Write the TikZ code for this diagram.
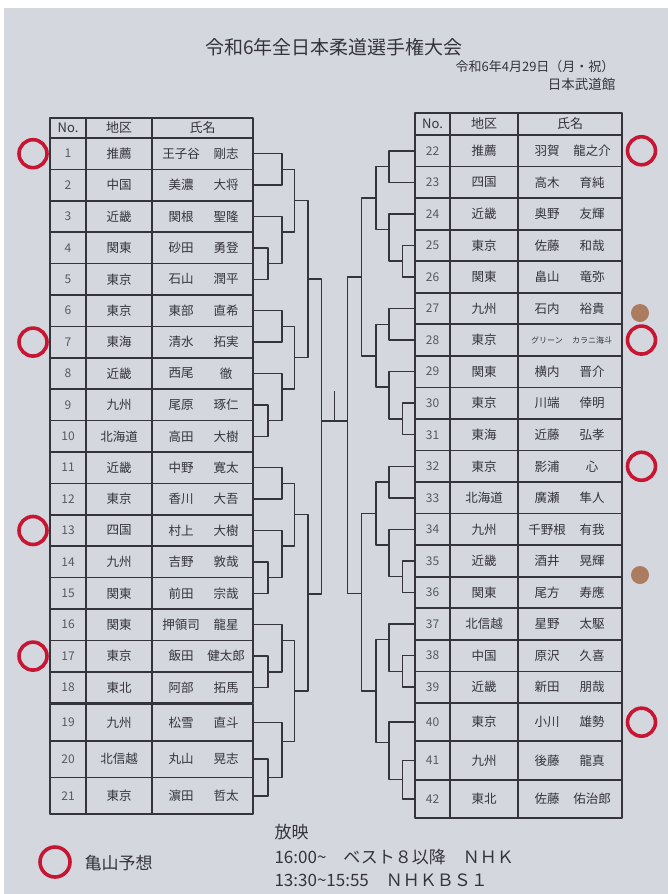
\documentclass[tikz,border=0pt]{standalone}
\usepackage{fontspec}
\setmainfont{Noto Sans CJK JP}
\usepackage{tikz}
\usetikzlibrary{calc}

\definecolor{paper}{RGB}{213,215,223}
\definecolor{ink}{RGB}{52,52,58}
\definecolor{numgray}{RGB}{88,88,96}
\definecolor{yosoured}{RGB}{198,22,52}
\definecolor{tackbrown}{RGB}{172,124,96}

% one bout: two entrants, x of the bar, name of the winner point
\newcommand\bout[5][.5]{%
  \draw[bracket] (#2) -- (#4|-#2) -- (#4|-#3) -- (#3);
  \coordinate (#5) at ($(#4|-#2)!#1!(#4|-#3)$);}

\begin{document}
\begin{tikzpicture}[x=1pt, y=-1pt, line join=round,
  grid/.style={draw=ink, line width=1.7pt},
  bracket/.style={draw=ink, line width=1.5pt},
  txt/.style={text=ink, inner sep=0pt, font=\fontsize{12.5}{12.5}\selectfont},
  num/.style={text=numgray, inner sep=0pt, font=\fontsize{12}{12}\selectfont},
  head/.style={text=ink, inner sep=0pt, font=\fontsize{13}{13}\selectfont},
  yosou/.style={draw=yosoured, line width=3.6pt}]
\useasboundingbox (0,0) rectangle (668,894);
\fill[white] (0,0) rectangle (668,894);
\fill[paper] (4,8) rectangle (668,894);

% title
\node[text=ink, font=\fontsize{19}{19}\selectfont] (title) at (334,47) {令和6年全日本柔道選手権大会};
\node[text=ink, anchor=east, font=\fontsize{13}{13}\selectfont] (date) at (618,67) {令和6年4月29日（月・祝）};
\node[text=ink, anchor=east, font=\fontsize{13.5}{13.5}\selectfont] (hall) at (619,84) {日本武道館};

% left table
\draw[grid] (50,118) rectangle (86,138) (86,118) rectangle (152,138) (152,118) rectangle (253,138);
\node[head] (hnoL) at (68,128) {No.};
\node[head] (hareaL) at (119,128) {地区};
\node[head] (hnameL) at (202.5,128) {氏名};
\foreach \n/\area/\sei/\mei in {1/推薦/王子谷/剛志, 2/中国/美濃/大将, 3/近畿/関根/聖隆,
    4/関東/砂田/勇登, 5/東京/石山/潤平, 6/東京/東部/直希, 7/東海/清水/拓実,
    8/近畿/西尾/徹, 9/九州/尾原/琢仁, 10/北海道/高田/大樹, 11/近畿/中野/寛太,
    12/東京/香川/大吾, 13/四国/村上/大樹, 14/九州/吉野/敦哉, 15/関東/前田/宗哉,
    16/関東/押領司/龍星, 17/東京/飯田/健太郎, 18/東北/阿部/拓馬, 19/九州/松雪/直斗,
    20/北信越/丸山/晃志, 21/東京/濵田/哲太}{
  \pgfmathsetmacro\ya{\n<19 ? 138+(\n-1)*31.4 : 704+(\n-19)*36.7}
  \pgfmathsetmacro\yb{\n<19 ? \ya+31.4 : \ya+36.7}
  \pgfmathsetmacro\ym{(\ya+\yb)/2}
  \draw[grid] (50,\ya) rectangle (86,\yb) (86,\ya) rectangle (152,\yb) (152,\ya) rectangle (253,\yb);
  \node[num] (no\n) at (68,\ym) {\n};
  \node[txt] (area\n) at (119,\ym) {\area};
  \node[txt] (sei\n) at (181,\ym) {\sei};
  \node[txt] (mei\n) at (226,\ym) {\mei};
  \coordinate (e\n) at (253,\ym);
}

% right table
\draw[grid] (415,113) rectangle (450,135) (450,113) rectangle (518,135) (518,113) rectangle (622,135);
\node[head] (hnoR) at (432.5,124) {No.};
\node[head] (hareaR) at (484,124) {地区};
\node[head] (hnameR) at (570,124) {氏名};
\foreach \n/\area/\sei/\mei in {22/推薦/羽賀/龍之介, 23/四国/高木/育純, 24/近畿/奥野/友輝,
    25/東京/佐藤/和哉, 26/関東/畠山/竜弥, 27/九州/石内/裕貴,
    28/東京/{\fontsize{8}{8}\selectfont グリーン}/{\fontsize{8}{8}\selectfont カラニ海斗},
    29/関東/横内/晋介, 30/東京/川端/倖明, 31/東海/近藤/弘孝, 32/東京/影浦/心,
    33/北海道/廣瀬/隼人, 34/九州/千野根/有我, 35/近畿/酒井/晃輝, 36/関東/尾方/寿應,
    37/北信越/星野/太駆, 38/中国/原沢/久喜, 39/近畿/新田/朋哉, 40/東京/小川/雄勢,
    41/九州/後藤/龍真, 42/東北/佐藤/佑治郎}{
  \pgfmathsetmacro\ya{\n<40 ? 135+(\n-22)*31.55 : 703+(\n-40)*38.33}
  \pgfmathsetmacro\yb{\n<40 ? \ya+31.55 : \ya+38.33}
  \pgfmathsetmacro\ym{(\ya+\yb)/2}
  \draw[grid] (415,\ya) rectangle (450,\yb) (450,\ya) rectangle (518,\yb) (518,\ya) rectangle (622,\yb);
  \node[num] (no\n) at (432.5,\ym) {\n};
  \node[txt] (area\n) at (484,\ym) {\area};
  \node[txt] (sei\n) at (547,\ym) {\sei};
  \node[txt] (mei\n) at (592,\ym) {\mei};
  \coordinate (e\n) at (415,\ym);
}

% bracket, left half
\coordinate (La) at (268,0);
\coordinate (Lb) at (282,0);
\coordinate (Lc) at (294.5,0);
\coordinate (Ld) at (308,0);
\coordinate (Le) at (321.5,0);
\bout{e1}{e2}{Lb}{w1}
\bout{e4}{e5}{La}{w4}
\bout[.33]{e3}{w4}{Lb}{w3}
\bout{w1}{w3}{Lc}{wA1}
\bout{e6}{e7}{Lb}{w6}
\bout{e9}{e10}{La}{w9}
\bout[.33]{e8}{w9}{Lb}{w8}
\bout{w6}{w8}{Lc}{wA2}
\bout{wA1}{wA2}{Ld}{wA}
\bout{e11}{e12}{Lb}{w11}
\bout{e14}{e15}{La}{w14}
\bout[.33]{e13}{w14}{Lb}{w13}
\bout{w11}{w13}{Lc}{wB1}
\bout{e17}{e18}{La}{w17}
\bout[.33]{e16}{w17}{Lb}{w16}
\bout{e20}{e21}{La}{w20}
\bout[.35]{e19}{w20}{Lb}{w19}
\bout{w16}{w19}{Lc}{wB2}
\bout[.45]{wB1}{wB2}{Ld}{wB}
\bout[.45]{wA}{wB}{Le}{wL}

% bracket, right half
\coordinate (Ra) at (402.5,0);
\coordinate (Rb) at (389,0);
\coordinate (Rc) at (376,0);
\coordinate (Rd) at (361.5,0);
\coordinate (Re) at (347.5,0);
\bout{e22}{e23}{Rb}{w22}
\bout{e25}{e26}{Ra}{w25}
\bout[.33]{e24}{w25}{Rb}{w24}
\bout{w22}{w24}{Rc}{wC1}
\bout{e27}{e28}{Rb}{w27}
\bout{e30}{e31}{Ra}{w30}
\bout[.33]{e29}{w30}{Rb}{w29}
\bout{w27}{w29}{Rc}{wC2}
\bout{wC1}{wC2}{Rd}{wC}
\bout{e32}{e33}{Rb}{w32}
\bout{e35}{e36}{Ra}{w35}
\bout[.33]{e34}{w35}{Rb}{w34}
\bout{w32}{w34}{Rc}{wD1}
\bout{e38}{e39}{Ra}{w38}
\bout[.33]{e37}{w38}{Rb}{w37}
\bout{e41}{e42}{Ra}{w41}
\bout[.35]{e40}{w41}{Rb}{w40}
\bout{w37}{w40}{Rc}{wD2}
\bout[.45]{wD1}{wD2}{Rd}{wD}
\bout[.45]{wC}{wD}{Re}{wR}

% final
\draw[bracket] (wL) -- (wR|-wL);
\coordinate (ctr) at ($(wL)!.5!(wR|-wL)$);
\draw[bracket] (ctr) -- ++(0,-30);

% picks
\foreach \r in {1,7,13,17} \draw[yosou] (no\r.center) ++(-35,0) circle[radius=14];
\foreach \r in {22,28,32,40} \draw[yosou] (no\r.center) ++(209,0) circle[radius=14];
\fill[tackbrown] (640,313) circle[radius=9];
\fill[tackbrown] (640,575) circle[radius=9];

% legend and broadcast
\draw[yosou] (55,862) circle[radius=15];
\node[text=ink, anchor=west, font=\fontsize{17}{17}\selectfont] (legend) at (81,863) {亀山予想};
\node[text=ink, anchor=west, font=\fontsize{17}{17}\selectfont] (hoei) at (271,832) {放映};
\node[text=ink, anchor=west, font=\fontsize{17}{17}\selectfont] (tv1) at (271,857) {16:00\textasciitilde　ベスト８以降　ＮＨＫ};
\node[text=ink, anchor=west, font=\fontsize{17}{17}\selectfont] (tv2) at (271,880) {13:30\textasciitilde 15:55　ＮＨＫＢＳ１};
\end{tikzpicture}
\end{document}
